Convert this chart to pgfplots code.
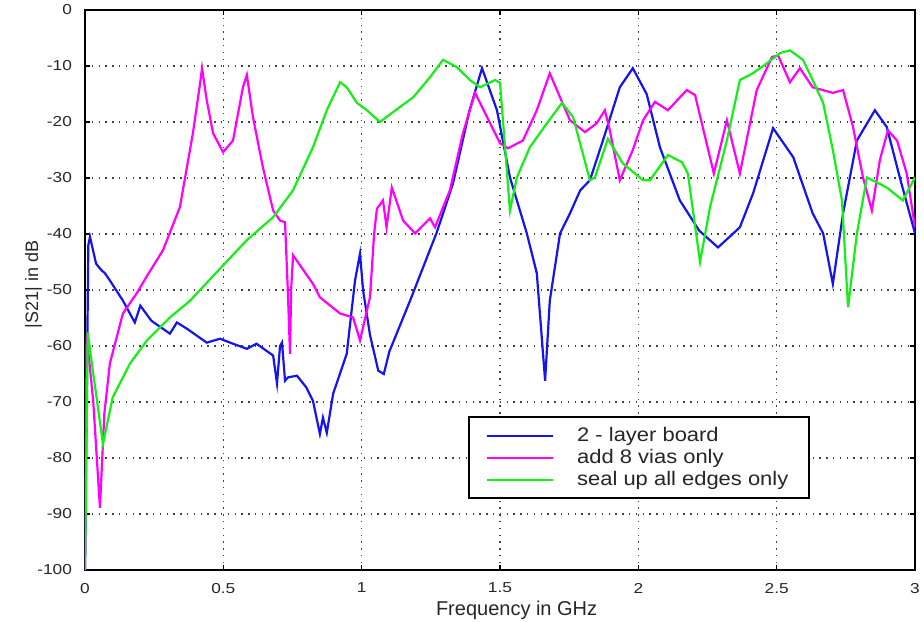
\documentclass[border=0pt]{standalone}
\usepackage{fontspec}
\setmainfont{Liberation Sans}
\newfontfamily\tickfont[FakeStretch=1.2]{Liberation Sans}
\newfontfamily\legfont[FakeStretch=1.12]{Liberation Sans}
\usepackage{pgfplots}
\pgfplotsset{compat=1.18}
\definecolor{cblue}{RGB}{20,20,240}
\definecolor{cmag}{RGB}{255,0,255}
\definecolor{cgreen}{RGB}{20,240,20}
\begin{document}
\begin{tikzpicture}
\begin{axis}[
  at={(0pt,0pt)}, anchor=south west,
  scale only axis, width=415pt, height=280pt,
  xmin=0, xmax=3, ymin=-100, ymax=0,
  xtick={0,0.5,1,1.5,2,2.5,3},
  xticklabels={0,0.5,1,1.5,2,2.5,3},
  ytick={-100,-90,-80,-70,-60,-50,-40,-30,-20,-10,0},
  yticklabels={-100,-90,-80,-70,-60,-50,-40,-30,-20,-10,0},
  tick align=inside, major tick length=2.5pt,
  every tick/.style={black, line width=0.8pt},
  axis line style={black, line width=1.2pt},
  grid=major,
  major grid style={black!75, line width=0.6pt, dash pattern=on 0.7pt off 2.7pt},
  ticklabel style={font=\tickfont\fontsize{7.2}{8}\selectfont, text=black!85},
  xticklabel style={yshift=-3pt},
  yticklabel style={xshift=-3pt},
  /pgf/number format/assume math mode=true,
  xlabel={Frequency in GHz},
  ylabel={|S21| in dB},
  xlabel style={font=\fontsize{10}{12}\selectfont, text=black!85, at={(axis description cs:0.52,0)}, anchor=north, yshift=-12pt},
  ylabel style={font=\fontsize{9}{11}\selectfont, text=black!85, at={(axis description cs:0,0.51)}, anchor=south, yshift=18pt},
  legend style={at={(axis cs:1.385,-72.5)}, anchor=north west, draw=black, line width=1pt,
    font=\legfont\fontsize{9.8}{10.5}\selectfont, text=black!85,
    inner xsep=8.5pt, inner ysep=3pt, row sep=-1.6pt},
  legend cell align=left,
  legend image code/.code={\draw[#1, line width=1pt] (0pt,0pt) -- (33pt,0pt);},
]
\addplot[cblue, line width=1.1pt] coordinates {
(0,-100) (0.012,-42) (0.018,-40.5) (0.04,-45.3) (0.06,-46.5) (0.072,-47) (0.09,-48.3)
(0.137,-51.9) (0.18,-55.8) (0.2,-52.8) (0.24,-55.5) (0.307,-57.8) (0.332,-55.8)
(0.368,-56.9) (0.44,-59.4) (0.488,-58.7) (0.535,-59.6) (0.585,-60.5) (0.62,-59.6)
(0.68,-61.7) (0.694,-66.7) (0.705,-60) (0.712,-59.4) (0.723,-66.2) (0.734,-65.6)
(0.766,-65.3) (0.8,-67.4) (0.824,-69.8) (0.849,-75.7) (0.86,-72.8) (0.874,-75.5)
(0.897,-68.5) (0.946,-61.4) (0.976,-48.3) (0.994,-43.5) (1.005,-50) (1.03,-58)
(1.06,-64.4) (1.08,-65) (1.1,-61) (1.175,-51.9) (1.27,-39.9) (1.33,-31) (1.39,-17.9)
(1.435,-10.4) (1.489,-17.9) (1.536,-29.9) (1.597,-39.9) (1.633,-47) (1.663,-66.2)
(1.68,-51.9) (1.717,-39.9) (1.753,-36.3) (1.79,-32.2) (1.825,-30.4) (1.872,-23.3)
(1.933,-13.8) (1.98,-10.4) (2.03,-15) (2.078,-24.5) (2.15,-34) (2.22,-39.4)
(2.288,-42.4) (2.367,-38.8) (2.415,-32.7) (2.487,-21.1) (2.56,-26.3) (2.63,-36.3)
(2.668,-39.9) (2.703,-48.9) (2.74,-36.3) (2.79,-23.3) (2.855,-17.9) (2.898,-20.9)
(2.945,-29.9) (3.0,-39.9)
};
\addlegendentry{\hspace*{9.5pt}2 - layer board}
\addplot[cmag, line width=1.1pt] coordinates {
(0,-100) (0.006,-58) (0.03,-70) (0.054,-88.9) (0.07,-72) (0.09,-63.1) (0.137,-54.2)
(0.188,-50.5) (0.224,-47.5) (0.282,-42.9) (0.343,-35.2) (0.39,-22) (0.416,-13.1)
(0.423,-10.4) (0.44,-16.1) (0.463,-22) (0.499,-25.4) (0.535,-23.3) (0.571,-13.8)
(0.585,-11.6) (0.607,-19.1) (0.643,-28.1) (0.68,-35.8) (0.705,-37.6) (0.723,-37.9)
(0.733,-50) (0.741,-61.4) (0.745,-50) (0.752,-43.8) (0.824,-48.9) (0.849,-51.3)
(0.922,-54.2) (0.969,-54.9) (0.994,-59) (1.03,-51.3) (1.045,-40) (1.055,-35.5)
(1.077,-34) (1.09,-38.8) (1.109,-31.7) (1.15,-37.6) (1.193,-39.9) (1.247,-37.2)
(1.265,-38.8) (1.319,-32.2) (1.366,-22) (1.41,-14.8) (1.453,-19.1) (1.5,-23.8)
(1.529,-24.7) (1.583,-23.3) (1.633,-17.9) (1.68,-11.3) (1.717,-15.6) (1.753,-19.7)
(1.807,-21.8) (1.85,-20.2) (1.879,-17.9) (1.897,-21.5) (1.933,-30.4) (1.98,-25)
(2.017,-19.7) (2.06,-16.4) (2.107,-17.9) (2.175,-14.3) (2.205,-15.2) (2.273,-29.2)
(2.32,-19.7) (2.367,-29.2) (2.428,-14.3) (2.483,-8.4) (2.505,-8.1) (2.548,-12.9)
(2.584,-10.4) (2.63,-13.8) (2.703,-14.8) (2.74,-14.3) (2.776,-20.9) (2.812,-29.9)
(2.844,-35.8) (2.873,-26.8) (2.902,-21.5) (2.935,-23.3) (2.97,-29.2) (3.0,-38.8)
};
\addlegendentry{\hspace*{9.5pt}add 8 vias only}
\addplot[cgreen, line width=1.1pt] coordinates {
(0,-100) (0.01,-57.6) (0.03,-65) (0.065,-77.5) (0.1,-69.2) (0.163,-63.1) (0.224,-59)
(0.307,-54.9) (0.38,-51.9) (0.463,-47.5) (0.585,-41.1) (0.68,-37) (0.752,-32.2)
(0.824,-24.5) (0.874,-17.9) (0.922,-12.9) (0.946,-13.8) (0.983,-16.6) (1.019,-17.9)
(1.066,-20) (1.09,-19.1) (1.139,-17.3) (1.186,-15.6) (1.247,-12) (1.294,-8.9)
(1.344,-10.2) (1.391,-12.5) (1.428,-13.8) (1.482,-12.5) (1.5,-13) (1.536,-35.8)
(1.561,-29.9) (1.608,-24.5) (1.67,-20.2) (1.724,-16.6) (1.764,-19.1) (1.825,-30.4)
(1.843,-29.9) (1.89,-23) (1.944,-27.4) (2.017,-30.4) (2.042,-30.4) (2.107,-25.9)
(2.158,-27.2) (2.179,-29.2) (2.223,-45) (2.259,-35.2) (2.32,-23.3) (2.367,-12.5)
(2.414,-11.3) (2.465,-9.5) (2.512,-7.7) (2.548,-7.2) (2.595,-8.9) (2.63,-12.5)
(2.668,-16.6) (2.703,-25) (2.736,-34) (2.758,-53.1) (2.79,-39.9) (2.826,-29.9)
(2.898,-31.7) (2.956,-34) (3.0,-29.9)
};
\addlegendentry{\hspace*{9.5pt}seal up all edges only}
\end{axis}
\pgfresetboundingbox
\path[use as bounding box] (-42.5pt,-25.5pt) rectangle (419.5pt,285pt);
\end{tikzpicture}
\end{document}
